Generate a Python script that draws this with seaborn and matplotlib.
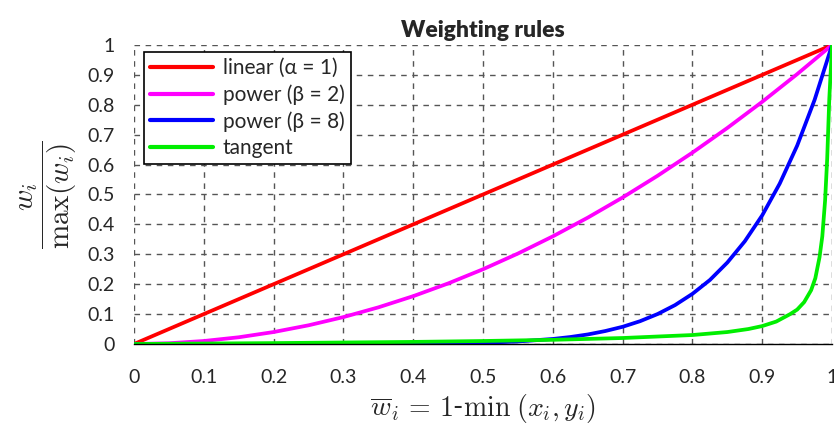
import numpy as np
import pandas as pd
import seaborn as sns
import matplotlib.pyplot as plt

# values
x_lin = [0.0, 1.0]
y_lin = [0.0, 1.0]

x_pow = [0.0, 0.05, 0.1, 0.15, 0.2, 0.25, 0.3, 0.35, 0.4, 0.45, 0.5,
         0.55, 0.6, 0.65, 0.7, 0.75, 0.8, 0.85, 0.9, 0.95, 1.0]
y_pow2 = [0.0, 0.0025, 0.01, 0.0225, 0.04, 0.0625, 0.09, 0.1225, 0.16, 0.2025, 0.25,
          0.3025, 0.36, 0.4225, 0.49, 0.5625, 0.64, 0.7225, 0.81, 0.9025, 1.0]

x_pow8 = [0.0, 0.3, 0.4, 0.45, 0.5, 0.55, 0.6, 0.625, 0.65, 0.675, 0.7, 0.725, 0.75,
          0.775, 0.8, 0.825, 0.85, 0.875, 0.9, 0.925, 0.95, 0.975, 1.0]
y_pow8 = [0.0, 0.0001, 0.0007, 0.0017, 0.004, 0.0084, 0.0168, 0.0233, 0.0319, 0.0433,
          0.0576, 0.0763, 0.1001, 0.13, 0.1678, 0.2141, 0.2725, 0.3436, 0.4305, 0.5364,
          0.6634, 0.8167, 1.0]

x_tan = [0.0, 0.1, 0.2, 0.3, 0.4, 0.5, 0.6, 0.7, 0.8, 0.85, 0.88, 0.9, 0.92, 0.94,
         0.95, 0.96, 0.97, 0.976, 0.982, 0.986, 0.99, 0.993, 0.996, 1.0]
y_tan = [0.0, 0.0015, 0.003, 0.005, 0.007, 0.01, 0.014, 0.02, 0.03, 0.04, 0.05, 0.06,
         0.075, 0.1, 0.115, 0.14, 0.18, 0.22, 0.29, 0.36, 0.48, 0.62, 0.82, 1.0]

labels = ['linear (α = 1)', 'power (β = 2)', 'power (β = 8)', 'tangent']
colors = ['#ff0000', '#ff00ff', '#0000ff', '#00ee00']

df = pd.concat([
    pd.DataFrame({'x': x_lin, 'y': y_lin, 'rule': labels[0]}),
    pd.DataFrame({'x': x_pow, 'y': y_pow2, 'rule': labels[1]}),
    pd.DataFrame({'x': x_pow8, 'y': y_pow8, 'rule': labels[2]}),
    pd.DataFrame({'x': x_tan, 'y': y_tan, 'rule': labels[3]}),
], ignore_index=True)

sns.set_style('white')
plt.rcParams['font.family'] = ['Lato', 'DejaVu Sans']
plt.rcParams['mathtext.fontset'] = 'cm'

fig = plt.figure(figsize=(8.34, 4.26), dpi=100)
ax = fig.add_axes([0.1607, 0.1925, 0.837, 0.702])

sns.lineplot(data=df, x='x', y='y', hue='rule', palette=colors, hue_order=labels,
             linewidth=2.7, ax=ax, sort=False, estimator=None)

ax.set_xlim(0, 1)
ax.set_ylim(0, 1)
ticks = np.round(np.arange(0, 1.01, 0.1), 1)
ax.set_xticks(ticks)
ax.set_yticks(ticks)
tick_labels = ['0' if t == 0 else ('1' if t == 1 else f'{t:g}') for t in ticks]
ax.set_xticklabels(tick_labels)
ax.set_yticklabels(tick_labels)
ax.tick_params(axis='both', labelsize=14, color='#444444', width=1)
ax.tick_params(axis='y', direction='out', length=9, pad=5)
ax.tick_params(axis='x', direction='inout', length=16, pad=10)

ax.grid(True, linestyle=(0, (4, 4)), color='#555555', linewidth=1)
for side in ['top', 'right', 'left']:
    ax.spines[side].set_visible(False)
ax.spines['bottom'].set_color('black')
ax.spines['bottom'].set_linewidth(1)

ax.set_title('Weighting rules', fontsize=16.5, fontweight='heavy', pad=6)
ax.set_xlabel(r'$\overline{w}_i\,=\,1$-$\min\;(x_i, y_i)$', fontsize=20, labelpad=4)
ax.set_ylabel(r'$\dfrac{w_i}{\max(w_i)}$', fontsize=21, labelpad=6)

leg = ax.legend(loc='upper left', fontsize=15, frameon=True, fancybox=False,
                handlelength=3.0, borderpad=0.3, labelspacing=0.3, handletextpad=0.5,
                bbox_to_anchor=(0.014, 0.977), borderaxespad=0)
leg.get_frame().set_edgecolor('black')
leg.get_frame().set_linewidth(1.2)
leg.get_frame().set_alpha(1)
for line in leg.get_lines():
    line.set_linewidth(3)

fig.savefig('out.png', dpi=100)
